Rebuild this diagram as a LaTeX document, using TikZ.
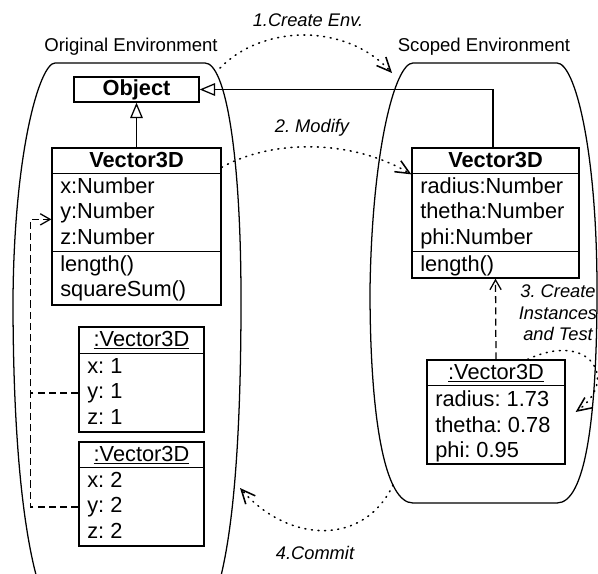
\documentclass[tikz,border=0pt]{standalone}
\usepackage{fontspec}
\setmainfont{Liberation Sans}
\usetikzlibrary{arrows.meta}
\frenchspacing
\newcommand\px{0.025cm}
\newcommand\umlfont{\fontsize{15.5}{18}\selectfont}

\tikzset{
  umlbox/.style={draw,line width=.9pt,fill=white,inner sep=0pt},
  member/.style={anchor=west,inner sep=0pt,text height=.72em,text depth=0pt},
  classtitle/.style={inner sep=0pt,text height=.72em,text depth=0pt},
  envlabel/.style={font=\fontsize{13.2}{15}\selectfont},
  steplabel/.style={font=\fontsize{13}{15.3}\selectfont\itshape},
  envshape/.style={line width=.9pt},
  flow/.style={line width=1.1pt,line cap=round,dash pattern=on .7pt off 4pt,-{Straight Barb[length=10pt,width=9pt]}},
  instof/.style={line width=.9pt,dash pattern=on 5pt off 3pt},
  inherit/.style={line width=.9pt,-{Triangle[open,length=11pt,width=9pt]}},
  sepline/.style={line width=.9pt}
}

\begin{document}
\begin{tikzpicture}[x=\px,y=-\px,every node/.style={font=\umlfont}]
\useasboundingbox (0,0) rectangle (598,573);
% the two environments
\node[envlabel] (origlbl) at (131,47) {Original Environment};
\node[envlabel] (scopelbl) at (484,47) {Scoped Environment};
\draw[envshape] (48,610) .. controls (25,560) and (13,450) .. (13,300)
  .. controls (14,150) and (40,63) .. (55,63) -- (205,63)
  .. controls (225,63) and (241,150) .. (241,300)
  .. controls (241,450) and (232,560) .. (210,610);
\draw[envshape] (413,503) .. controls (385,503) and (370,420) .. (370,290)
  .. controls (372,150) and (395,63) .. (413,63) -- (557,63)
  .. controls (575,63) and (597,150) .. (597,290)
  .. controls (597,420) and (585,503) .. (557,503) -- cycle;
\coordinate (origNE) at (220,68);
\coordinate (scopeNW) at (392,73);
\coordinate (origE) at (240,488);
\coordinate (scopeSW) at (393,485);
% classes in the original environment
\node[umlbox,minimum width=125*\px,minimum height=25*\px] (obj) at (136.5,89.5) {};
\node[classtitle] (objtitle) at (136.5,90) {\textbf{Object}};
\node[umlbox,minimum width=169*\px,minimum height=157*\px] (lvec) at (136.5,226.5) {};
\draw[sepline] ([yshift=-26*\px]lvec.north west) -- ([yshift=-26*\px]lvec.north east);
\draw[sepline] ([yshift=-104*\px]lvec.north west) -- ([yshift=-104*\px]lvec.north east);
\node[classtitle] (lvtitle) at (136.5,162) {\textbf{Vector3D}};
\node[member] (lvx) at (60,188) {x:Number};
\node[member] (lvy) at (60,213.5) {y:Number};
\node[member] (lvz) at (60,239) {z:Number};
\node[member] (lvlen) at (60,266) {length()};
\node[member] (lvsum) at (60,291) {squareSum()};
% instances
\node[umlbox,minimum width=125*\px,minimum height=105*\px] (inst1) at (141.5,379.5) {};
\draw[sepline] ([yshift=-27*\px]inst1.north west) -- ([yshift=-27*\px]inst1.north east);
\node[classtitle] (i1title) at (141.5,341.5) {\underline{:Vector3D}};
\node[member] (i1x) at (87,368) {x: 1};
\node[member] (i1y) at (87,393) {y: 1};
\node[member] (i1z) at (87,419) {z: 1};
\node[umlbox,minimum width=125*\px,minimum height=104*\px] (inst2) at (141.5,494) {};
\draw[sepline] ([yshift=-26*\px]inst2.north west) -- ([yshift=-26*\px]inst2.north east);
\node[classtitle] (i2title) at (141.5,456) {\underline{:Vector3D}};
\node[member] (i2x) at (87,482) {x: 2};
\node[member] (i2y) at (87,507) {y: 2};
\node[member] (i2z) at (87,533) {z: 2};
% scoped environment
\node[umlbox,minimum width=167*\px,minimum height=130*\px] (rvec) at (495.5,213) {};
\draw[sepline] ([yshift=-26*\px]rvec.north west) -- ([yshift=-26*\px]rvec.north east);
\draw[sepline] ([yshift=-104*\px]rvec.north west) -- ([yshift=-104*\px]rvec.north east);
\node[classtitle] (rvtitle) at (495.5,162) {\textbf{Vector3D}};
\node[member] (rvr) at (420,188) {radius:Number};
\node[member] (rvt) at (420,213.5) {thetha:Number};
\node[member] (rvp) at (420,239) {phi:Number};
\node[member] (rvlen) at (420,266) {length()};
\node[umlbox,minimum width=138*\px,minimum height=104*\px] (inst3) at (496,412) {};
\draw[sepline] ([yshift=-26*\px]inst3.north west) -- ([yshift=-26*\px]inst3.north east);
\node[classtitle] (i3title) at (496,374) {\underline{:Vector3D}};
\node[member] (i3r) at (435,401) {radius: 1.73};
\node[member] (i3t) at (435,427) {thetha: 0.78};
\node[member] (i3p) at (435,452) {phi: 0.95};
% generalisation and instance-of
\draw[inherit] (lvec.north) -- (obj.south);
\draw[inherit] ([xshift=-2.5*\px]rvec.north) |- (obj.east);
\draw[instof] (inst1.west |- i1y) -- ++(-48,0);
\draw[instof,-{Straight Barb[length=7pt,width=8pt]}] (inst2.west |- i2y) -- ++(-48,0)
  |- ([yshift=-72*\px]lvec.north west);
\draw[instof,-{Straight Barb[length=7pt,width=8pt]}] (inst3.north) -- (rvec.south);
% steps
\draw[flow] (origNE) .. controls (262,25) and (345,22) .. (scopeNW);
\node[steplabel] (createlbl) at (308,20) {1.Create Env.};
\draw[flow] ([yshift=-20*\px]lvec.north east) .. controls (270,140) and (350,138)
  .. ([yshift=-27*\px]rvec.north west);
\node[steplabel] (modifylbl) at (312,128) {2. Modify};
\draw[flow] ([xshift=-38*\px]inst3.north east) .. controls (590,330) and (620,380)
  .. ([xshift=10*\px]inst3.east);
\node[steplabel,align=center] (testlbl) at (558,313) {3. Create\\Instances\\and Test};
\draw[flow] (scopeSW) .. controls (365,545) and (290,545) .. (origE);
\node[steplabel] (commitlbl) at (315,553) {4.Commit};
\end{tikzpicture}
\end{document}
